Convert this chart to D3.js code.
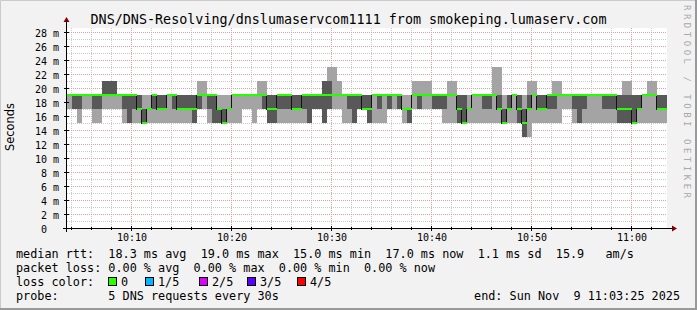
<!DOCTYPE html>
<html><head><meta charset="utf-8">
<script src="https://cdn.jsdelivr.net/npm/d3@7"></script>
<style>
body{margin:0;background:#f2f2f2}
svg{display:block}
text{font-family:"DejaVu Sans Mono",monospace;fill:#000}
</style>
</head><body><svg id="c" width="697" height="310"></svg>
<script>
// ---------------- data ----------------
const title = "DNS/DNS-Resolving/dnslumaservcom1111 from smokeping.lumaserv.com";
const yAxisTitle = "Seconds";
const yTickValues = [0,2,4,6,8,10,12,14,16,18,20,22,24,26,28];
const xTickLabels = ["10:10","10:20","10:30","10:40","10:50","11:00"];
const startTime = "2025-11-09T10:03:30";
const stepSeconds = 30;
// 5 sorted pings per 30 s step (ms): lowest, 2nd, median, 4th, highest
const pingLow = [17,17,15,17,17,15,15,17,17,17, 17,15,15,15,15,15,15,15,15,15, 15,15,15,15,15,15,17,17,15,15,
  15,15,15,15,15,17,17,15,17,17, 15,15,15,15,15,15,15,15,15,17, 17,15,17,17,17,15,15,15,17,17,
  15,15,15,15,17,17,17,15,15,17, 17,17,17,17,17,15,15,15,15,15, 15,15,15,15,15,15,15,15,15,15,
  15,13,13,15,15,15,15,15,15,17, 17,15,15,15,15,15,15,15,15,15, 15,15,15,15,15,15,15,15,15,15];
const ping2 = [19,17,17,19,19,17,17,19,19,19, 19,17,15,17,17,15,17,17,17,17, 19,17,17,17,17,15,17,19,17,15,
  15,15,17,19,19,19,19,19,19,17, 15,15,17,17,17,17,17,17,15,17, 17,15,17,19,19,19,17,15,17,17,
  15,19,17,19,17,19,17,17,15,19, 17,19,19,17,17,17,19,19,15,15, 17,19,19,17,17,19,17,15,17,19,
  15,13,17,19,17,17,17,17,19,19, 19,17,15,17,19,19,19,17,17,17, 15,15,15,15,17,19,19,19,17,17];
const medianRtt = [19,19,19,19,19,19,19,19,19,19, 19,19,19,19,17,15,17,19,17,17, 19,19,17,17,17,17,19,19,19,19,
  17,15,17,19,19,19,19,19,19,19, 17,17,19,19,19,17,17,19,19,19, 19,19,19,19,19,19,19,19,19,17,
  17,19,19,19,19,19,19,17,17,19, 19,19,19,19,19,19,19,19,17,15, 17,19,19,19,19,19,17,15,17,19,
  17,15,17,19,17,17,19,19,19,19, 19,19,19,19,19,19,19,19,19,19, 17,17,17,15,17,19,19,19,17,17];
const ping4 = [19,19,19,19,19,19,19,21,21,21, 19,19,19,19,19,17,17,19,19,19, 19,19,19,19,19,19,19,19,19,19,
  17,17,17,19,19,19,19,19,19,19, 19,19,19,19,19,19,19,19,19,19, 19,21,21,19,19,19,19,19,19,19,
  19,19,19,19,19,19,19,17,17,19, 19,19,19,19,19,19,19,19,19,19, 17,19,19,19,19,19,19,17,19,19,
  19,17,19,19,19,19,19,19,19,19, 19,19,19,19,19,19,19,19,19,19, 19,19,19,19,19,19,19,19,19,19];
const pingHigh = [19,19,19,19,19,19,19,21,21,21, 19,19,19,19,19,19,19,19,19,19, 19,19,19,19,19,19,21,21,19,19,
  19,19,19,19,19,19,19,19,21,21, 19,19,19,19,19,19,19,19,19,19, 19,21,23,23,21,19,19,19,19,19,
  19,19,19,19,19,19,19,19,19,21, 21,21,21,19,19,19,21,21,19,19, 19,19,19,19,19,23,23,19,19,19,
  19,19,21,21,19,19,19,21,21,19, 19,19,19,19,19,19,19,19,19,19, 19,21,21,19,19,19,21,21,19,19];
const legendRows = [
  "median rtt:  18.3 ms avg  19.0 ms max  15.0 ms min  17.0 ms now  1.1 ms sd  15.9   am/s",
  "packet loss: 0.00 % avg  0.00 % max  0.00 % min  0.00 % now"
];
const lossLabels = ["0","1/5","2/5","3/5","4/5"];
const lossColors = ["#26ff00","#00b8ff","#dd00ff","#5e00ff","#ff0000"];
const probeText = "probe:       5 DNS requests every 30s";
const endText = "end: Sun Nov  9 11:03:25 2025";
const watermark = "RRDTOOL / TOBI OETIKER";

// ---------------- layout ----------------
const W = 697, H = 310;
const L = 67, R = 667, T = 28, B = 228;
const svg = d3.select("#c");
const parse = d3.timeParse("%Y-%m-%dT%H:%M:%S");
const t0 = parse(startTime);
const t1 = new Date(t0.getTime() + 3600*1000);
const x = d3.scaleTime().domain([t0, t1]).range([L, R]);
const y = d3.scaleLinear().domain([0, 200/7]).range([B, T]);

// background + frame
svg.append("rect").attr("width",W).attr("height",H).attr("fill","#f2f2f2");
svg.append("path").attr("d",`M0.5,${H} V0.5 H${W}`).attr("stroke","#cbcbcb").attr("fill","none");
svg.append("path").attr("d",`M0,${H-1} H${W-1} V0`).attr("stroke","#999").attr("stroke-width",2).attr("fill","none");

// canvas
svg.append("rect").attr("x",L).attr("y",T).attr("width",R-L).attr("height",B-T).attr("fill","#fff");

// grid
const g = svg.append("g").attr("shape-rendering","crispEdges");
const minorY = d3.range(1, 29, 1).filter(v => v % 2 !== 0);
g.selectAll(".hm").data(minorY).join("line")
  .attr("x1",L).attr("x2",R).attr("y1",d=>Math.round(y(d))+0.5).attr("y2",d=>Math.round(y(d))+0.5)
  .attr("stroke","#cacaca").attr("stroke-dasharray","1,1");
const minorX = d3.timeMinute.every(2).range(t0, t1).filter(d => d.getMinutes() % 10 !== 0);
g.selectAll(".vm").data(minorX).join("line")
  .attr("x1",d=>Math.round(x(d))-0.5).attr("x2",d=>Math.round(x(d))-0.5).attr("y1",T).attr("y2",B)
  .attr("stroke","#cacaca").attr("stroke-dasharray","1,1");
g.selectAll(".hM").data(yTickValues.filter(v=>v>0)).join("line")
  .attr("x1",L).attr("x2",R).attr("y1",d=>Math.round(y(d))+0.5).attr("y2",d=>Math.round(y(d))+0.5)
  .attr("stroke","#e99c9c").attr("stroke-dasharray","1,1");
const majorX = d3.timeMinute.every(10).range(t0, t1);
g.selectAll(".vM").data(majorX).join("line")
  .attr("x1",d=>Math.round(x(d))-0.5).attr("x2",d=>Math.round(x(d))-0.5).attr("y1",T).attr("y2",B)
  .attr("stroke","#e99c9c").attr("stroke-dasharray","1,1");

// smoke
const steps = medianRtt.map((m,i)=>({
  t: new Date(t0.getTime() + i*stepSeconds*1000),
  t2: new Date(t0.getTime() + (i+1)*stepSeconds*1000),
  lo: pingLow[i], q1: ping2[i], med: m, q3: ping4[i], hi: pingHigh[i]
}));
const sm = svg.append("g").attr("shape-rendering","crispEdges");
sm.selectAll(".l").data(steps).join("rect")
  .attr("x",d=>x(d.t)).attr("width",d=>x(d.t2)-x(d.t))
  .attr("y",d=>y(d.hi)).attr("height",d=>y(d.lo)-y(d.hi)).attr("fill","#a4a4a4");
sm.selectAll(".d").data(steps).join("rect")
  .attr("x",d=>x(d.t)).attr("width",d=>x(d.t2)-x(d.t))
  .attr("y",d=>y(d.q3)).attr("height",d=>y(d.q1)-y(d.q3)).attr("fill","#585858");

// median line
const pts = steps.map(d=>[x(d.t)-0.5, y(d.med)]);
pts.push([x(steps[steps.length-1].t2)-0.5, y(steps[steps.length-1].med)]);
svg.append("path").attr("d", d3.line().curve(d3.curveStepAfter)(pts))
  .attr("fill","none").attr("stroke","#111").attr("stroke-width",1).attr("shape-rendering","crispEdges");
svg.append("g").attr("shape-rendering","crispEdges").selectAll("rect").data(steps).join("rect")
  .attr("x",d=>x(d.t)).attr("width",d=>x(d.t2)-x(d.t))
  .attr("y",d=>y(d.med)-1).attr("height",2).attr("fill",lossColors[0]);

// axes
const ax = svg.append("g").attr("shape-rendering","crispEdges");
ax.append("line").attr("x1",L-4).attr("x2",R+5).attr("y1",B+0.5).attr("y2",B+0.5).attr("stroke","#000");
ax.append("line").attr("x1",L-0.5).attr("x2",L-0.5).attr("y1",B+4).attr("y2",T-6).attr("stroke","#000");
svg.append("path").attr("d",`M${R+5},${B-2.5} L${R+10},${B+0.5} L${R+5},${B+3.5} Z`).attr("fill","#7f0000");
svg.append("path").attr("d",`M${L-3.5},${T-6} L${L-0.5},${T-11} L${L+2.5},${T-6} Z`).attr("fill","#7f0000");
ax.selectAll(".xt").data(minorX).join("line")
  .attr("x1",d=>Math.round(x(d))-0.5).attr("x2",d=>Math.round(x(d))-0.5).attr("y1",B-1).attr("y2",B+2).attr("stroke","#000");
ax.selectAll(".xT").data(majorX).join("line")
  .attr("x1",d=>Math.round(x(d))-0.5).attr("x2",d=>Math.round(x(d))-0.5).attr("y1",B-2).attr("y2",B+3).attr("stroke","#000");
ax.selectAll(".yT").data(yTickValues).join("line")
  .attr("x1",L-3).attr("x2",L+2).attr("y1",d=>Math.round(y(d))+0.5).attr("y2",d=>Math.round(y(d))+0.5).attr("stroke","#000");

// axis labels
svg.append("g").selectAll("text").data(majorX).join("text")
  .attr("x",d=>Math.round(x(d))).attr("y",B+13).attr("text-anchor","middle")
  .attr("font-size","10px").text((d,i)=>xTickLabels[i]);
svg.append("g").selectAll("text").data(yTickValues).join("text")
  .attr("x",d=>d===0?47:59).attr("y",d=>Math.round(y(d))+4.5).attr("text-anchor","end")
  .attr("font-size","10px").text(d=>d===0?"0":d+" m");
svg.append("text").attr("transform","translate(14,127) rotate(-90)").attr("text-anchor","middle")
  .style("font-family","'DejaVu Sans',sans-serif").attr("font-size","11.4px").text(yAxisTitle);

// title
svg.append("text").attr("x",W/2).attr("y",24).attr("text-anchor","middle").attr("font-size","13.4px").text(title);

// watermark
svg.append("text").attr("transform","translate(684,5) rotate(90)").attr("font-size","9px")
  .attr("textLength",193).attr("lengthAdjust","spacing").style("fill","#a9a9a9").text(watermark);

// legend
const lg = svg.append("g").attr("font-size","11.8px").style("white-space","pre");
lg.selectAll(".r").data(legendRows).join("text").attr("x",16).attr("y",(d,i)=>257.5+14*i)
  .attr("xml:space","preserve").text(d=>d);
lg.append("text").attr("x",16).attr("y",285.5).text("loss color:");
const boxX = [108,145,199,247,297];
lossLabels.forEach((lab,i)=>{
  lg.append("rect").attr("x",boxX[i]+0.5).attr("y",277.5).attr("width",8).attr("height",8)
    .attr("fill",lossColors[i]).attr("stroke","#000").attr("shape-rendering","crispEdges");
  lg.append("text").attr("x",boxX[i]+13).attr("y",285.5).text(lab);
});
lg.append("text").attr("x",16).attr("y",299.5).attr("xml:space","preserve").text(probeText);
lg.append("text").attr("x",680).attr("y",299.5).attr("text-anchor","end").attr("xml:space","preserve").text(endText);
</script>
</body></html>
